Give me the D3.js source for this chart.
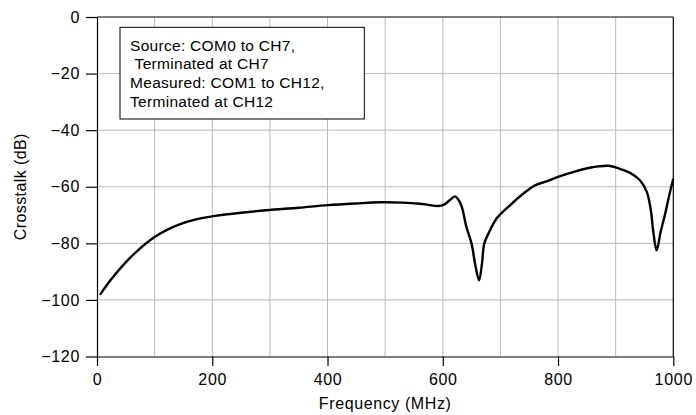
<!DOCTYPE html>
<html>
<head>
<meta charset="utf-8">
<script src="https://cdn.jsdelivr.net/npm/d3@7"></script>
<style>
  body { margin: 0; background: #fff; }
  svg { display: block; font-family: 'Liberation Sans', Arial, sans-serif; }
  .grid line { stroke: #b9b9b9; stroke-width: 1; }
  .axis path, .axis line { stroke: #000; stroke-width: 1.2; }
  .axis text { fill: #000; font-size: 16px; letter-spacing: 0.7px; }
</style>
</head>
<body>
<svg id="chart" width="696" height="415"></svg>
<script>
// Data
const freqMHz = [5, 25, 49, 72, 100, 124, 153, 182, 205, 250, 294, 350, 401, 450, 491, 530, 560, 575, 592, 602, 612, 621, 627, 633, 641, 650, 656, 663, 668, 672, 682, 693, 717, 740, 760, 780, 800, 826, 855, 870, 888, 905, 925, 942, 954, 961, 965, 971, 978, 986, 993, 1000];
const crosstalkDb = [-98.2, -92.6, -86.9, -82.3, -77.8, -75.0, -72.6, -71.1, -70.3, -69.2, -68.3, -67.4, -66.5, -65.9, -65.5, -65.6, -66.0, -66.4, -66.8, -66.3, -64.8, -63.4, -64.5, -67.1, -74.2, -80.1, -87.2, -93.1, -87.2, -80.1, -75.4, -71.3, -66.5, -62.4, -59.5, -58.1, -56.5, -54.8, -53.3, -52.8, -52.6, -53.5, -55.1, -57.7, -61.8, -68.3, -75.4, -82.5, -76.0, -69.5, -63.0, -57.2];

const xTicks = [0, 200, 400, 600, 800, 1000];
const xGrid = [100, 200, 300, 400, 500, 600, 700, 800, 900];
const yTicks = [0, -20, -40, -60, -80, -100, -120];

const noteLines = ['Source: COM0 to CH7,', '\u00a0Terminated at CH7', 'Measured: COM1 to CH12,', 'Terminated at CH12'];

const margin = { top: 17, right: 22.7, bottom: 58.5, left: 97 };
const width = 696 - margin.left - margin.right,
  height = 415 - margin.top - margin.bottom;

const svg = d3.select('#chart');
const g = svg
  .append('g')
  .attr('transform', 'translate(' + margin.left + ',' + margin.top + ')');

// Set scales
const xScale = d3.scaleLinear().domain([0, 1000]).range([0, width]);
const yScale = d3.scaleLinear().domain([-120, 0]).range([height, 0]);

// Grid
const grid = g.append('g').attr('class', 'grid');
grid
  .selectAll('.vg')
  .data(xGrid)
  .enter()
  .append('line')
  .attr('x1', (d) => xScale(d))
  .attr('x2', (d) => xScale(d))
  .attr('y1', 0)
  .attr('y2', height);
grid
  .selectAll('.hg')
  .data(yTicks.filter((d) => d !== 0 && d !== -120))
  .enter()
  .append('line')
  .attr('x1', 0)
  .attr('x2', width)
  .attr('y1', (d) => yScale(d))
  .attr('y2', (d) => yScale(d));

// Frame (top and right)
g.append('line')
  .attr('x1', 0).attr('x2', width)
  .attr('y1', 0).attr('y2', 0)
  .attr('stroke', '#000').attr('stroke-width', 1.2);
g.append('line')
  .attr('x1', width).attr('x2', width)
  .attr('y1', 0).attr('y2', height)
  .attr('stroke', '#000').attr('stroke-width', 1.2);

// Axes
const minusFmt = (d) => (d < 0 ? '\u2212' + Math.abs(d) : String(d));

g.append('g')
  .attr('class', 'axis')
  .call(
    d3.axisLeft(yScale).tickValues(yTicks).tickSize(11).tickPadding(6).tickSizeOuter(0).tickFormat(minusFmt)
  );

g.append('g')
  .attr('class', 'axis')
  .attr('transform', `translate(0,${height})`)
  .call(
    d3.axisBottom(xScale).tickValues(xTicks).tickSize(9.5).tickPadding(8).tickSizeOuter(0).tickFormat(d3.format('d'))
  );

// Curve
const points = freqMHz.map((f, i) => ({ f: f, db: crosstalkDb[i] }));
const valueline = d3
  .line()
  .x((d) => xScale(d.f))
  .y((d) => yScale(d.db))
  .curve(d3.curveCatmullRom.alpha(0.5));

g.append('path')
  .attr('d', valueline(points))
  .attr('fill', 'none')
  .attr('stroke', '#000')
  .attr('stroke-width', 2.4)
  .attr('stroke-linejoin', 'round');

// Note box
const note = g.append('g').attr('transform', 'translate(23,10.3)');
note
  .append('rect')
  .attr('width', 244.3)
  .attr('height', 91.7)
  .attr('fill', '#fff')
  .attr('stroke', '#000')
  .attr('stroke-width', 1);
note
  .selectAll('text')
  .data(noteLines)
  .enter()
  .append('text')
  .attr('x', 10)
  .attr('y', (d, i) => 23.4 + i * 18.8)
  .attr('font-size', '15.5px')
  .attr('letter-spacing', '0.3px')
  .attr('fill', '#000')
  .text((d) => d);

// Labels
svg
  .append('text')
  .attr('transform', 'translate(26,' + (margin.top + height / 2) + ') rotate(-90)')
  .attr('text-anchor', 'middle')
  .attr('font-size', '16px')
  .attr('letter-spacing', '0.4px')
  .text('Crosstalk (dB)');

svg
  .append('text')
  .attr('x', margin.left + width / 2)
  .attr('y', 409)
  .attr('text-anchor', 'middle')
  .attr('font-size', '16px')
  .attr('letter-spacing', '0.6px')
  .text('Frequency (MHz)');
</script>
</body>
</html>
